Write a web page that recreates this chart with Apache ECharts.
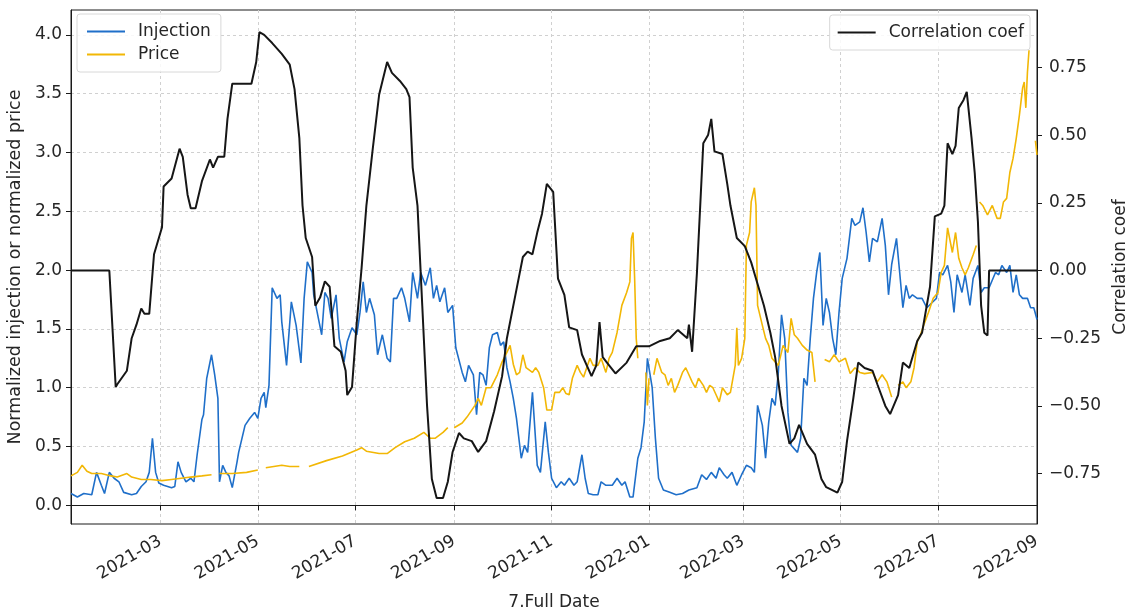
<!DOCTYPE html>
<html>
<head>
<meta charset="utf-8">
<script src="https://cdn.jsdelivr.net/npm/echarts@6/dist/echarts.min.js"></script>
<style>html,body{margin:0;padding:0;background:#fff}#c{width:1127px;height:613px}</style>
</head>
<body>
<div id="c"></div>
<script>
// Days counted from 2021-01-01 (day 0)
const injDays = [3,7,11,16,19,22,24,27,30,33,36,41,44,47,50,52,54,56,58,61,66,68,70,72,75,78,80,82,85,86,88,91,93,95,96,98,100,102,104,107,108,112,115,118,120,122,124,125,127,129,132,134,135,138,141,144,147,149,151,154,155,160,162,164,166,169,171,174,176,179,182,184,186,188,190,193,195,198,201,203,205,207,210,212,215,217,220,222,225,228,230,232,234,237,239,242,244,248,250,252,255,257,259,261,263,265,267,270,272,274,276,278,280,282,285,287,289,292,295,297,300,302,304,307,310,312,315,318,320,323,325,327,330,333,335,338,342,345,348,350,353,355,358,360,362,364,367,369,371,374,378,382,386,390,395,398,401,404,407,409,412,414,417,420,423,426,429,431,433,436,438,440,442,444,446,448,450,452,454,458,460,462,464,466,468,470,472,474,476,478,480,482,484,486,489,492,494,497,499,501,503,505,508,511,513,515,517,520,522,524,526,528,530,533,536,539,542,545,547,549,552,554,556,558,561,563,566,568,571,573,575,578,582,584,586,589,591,593,595,597,599,602,604,606,608];
const injVals = [0.10,0.07,0.10,0.09,0.28,0.17,0.10,0.28,0.23,0.20,0.11,0.09,0.10,0.16,0.20,0.28,0.57,0.28,0.19,0.17,0.15,0.16,0.37,0.28,0.20,0.23,0.20,0.43,0.73,0.77,1.08,1.28,1.11,0.91,0.20,0.34,0.28,0.25,0.15,0.37,0.45,0.68,0.74,0.79,0.74,0.91,0.96,0.83,1.02,1.85,1.76,1.79,1.56,1.19,1.73,1.53,1.21,1.76,2.07,1.98,1.79,1.45,1.81,1.76,1.59,1.79,1.42,1.22,1.39,1.51,1.45,1.64,1.90,1.64,1.76,1.62,1.28,1.45,1.25,1.22,1.76,1.76,1.85,1.76,1.56,1.98,1.76,1.98,1.87,2.02,1.76,1.87,1.73,1.85,1.64,1.70,1.34,1.13,1.05,1.19,1.11,0.77,1.13,1.11,1.02,1.34,1.45,1.47,1.36,1.39,1.17,1.05,0.91,0.74,0.40,0.51,0.45,0.96,0.34,0.28,0.71,0.45,0.23,0.15,0.20,0.17,0.23,0.17,0.20,0.43,0.23,0.10,0.09,0.09,0.20,0.17,0.17,0.23,0.17,0.20,0.07,0.07,0.40,0.49,0.71,1.25,1.00,0.57,0.23,0.13,0.11,0.09,0.10,0.13,0.15,0.26,0.22,0.28,0.23,0.32,0.26,0.23,0.28,0.17,0.26,0.34,0.32,0.28,0.85,0.68,0.40,0.71,0.91,0.85,1.13,1.62,1.42,0.79,0.51,0.45,0.57,1.08,1.02,1.42,1.76,1.98,2.15,1.53,1.76,1.64,1.42,1.28,1.64,1.93,2.10,2.44,2.38,2.41,2.53,2.32,2.07,2.27,2.24,2.44,2.21,1.79,2.05,2.27,1.98,1.68,1.87,1.76,1.79,1.76,1.76,1.68,1.72,1.76,1.98,1.96,2.04,1.90,1.64,1.96,1.81,1.96,1.70,1.93,2.04,1.81,1.85,1.85,1.98,1.96,2.04,1.98,2.04,1.81,1.96,1.79,1.76,1.76,1.68,1.68,1.58];

const priceDays = [3,7,10,13,16,22,28,32,38,41,47,53,60,66,72,78,85,91,93,96,104,113,120,122,125,135,140,146,149,152,163,173,182,185,188,196,201,206,212,218,224,228,231,236,239,241,243,248,251,256,258,260,263,266,270,273,276,278,280,282,284,286,288,292,294,296,299,301,304,306,309,311,313,315,317,320,322,324,326,328,330,333,335,338,340,342,345,348,351,353,354,355,356,357,358,360,363,364,365,366,368,370,373,375,377,379,381,383,386,388,390,392,394,396,399,401,403,405,407,409,411,414,416,419,420,421,423,425,426,428,429,431,432,433,436,438,440,442,444,446,449,452,454,456,458,461,464,467,469,471,475,478,481,484,488,491,494,497,500,505,508,511,514,517,519,521,524,526,529,531,533,535,537,540,543,546,548,550,552,555,557,559,561,563,565,568,570,571,572,574,577,580,583,585,587,589,591,593,595,597,599,600,601,602,603,605,607,608];
const priceVals = [0.25,0.28,0.34,0.29,0.27,0.27,0.25,0.24,0.27,0.24,0.22,0.22,0.21,0.22,0.23,0.24,0.25,0.26,null,0.27,0.27,0.28,0.30,null,0.32,0.34,0.33,0.33,null,0.33,0.38,0.42,0.47,0.49,0.46,0.44,0.44,0.49,0.54,0.57,0.62,0.57,0.57,0.62,0.66,null,0.66,0.70,0.75,0.85,0.91,0.85,1.00,1.00,1.11,1.22,1.30,1.36,1.20,1.11,1.13,1.28,1.17,1.13,1.17,1.13,1.00,0.81,0.81,0.96,0.96,1.00,0.95,0.94,1.08,1.19,1.13,1.09,1.17,1.25,1.19,1.19,1.25,1.13,1.25,1.30,1.47,1.70,1.81,1.90,2.27,2.32,1.93,1.42,1.25,null,1.13,0.85,1.08,null,1.11,1.25,1.13,1.11,1.02,1.08,0.96,1.02,1.13,1.17,1.11,1.05,1.00,1.08,1.02,0.96,1.02,1.00,0.94,0.88,1.00,0.94,0.96,1.19,1.51,1.19,1.25,1.42,2.21,2.32,2.58,2.70,2.55,1.70,1.53,1.42,1.36,1.25,1.22,1.19,1.36,1.30,1.59,1.45,1.42,1.36,1.32,1.30,1.05,null,1.24,1.22,1.28,1.22,1.25,1.12,1.17,1.13,1.12,1.13,1.05,1.11,1.05,0.92,null,1.02,1.05,1.00,1.05,1.17,1.39,1.45,1.53,1.64,1.76,1.81,1.98,2.04,2.36,2.15,2.32,2.10,2.02,1.96,2.02,2.13,2.21,null,2.58,2.55,2.47,2.55,2.44,2.44,2.58,2.61,2.83,2.95,3.12,3.32,3.55,3.60,3.38,3.68,3.87,null,3.10,2.98];

const corrDays = [3,27,31,32,38,41,44,47,49,52,55,60,61,66,71,73,76,78,81,85,90,92,95,99,101,104,109,116,119,121,124,129,135,140,143,146,148,150,154,156,159,162,165,168,172,175,176,179,182,185,188,192,196,201,204,209,213,215,217,220,223,226,229,232,236,239,242,246,249,254,258,263,268,273,276,281,286,289,292,295,298,301,305,308,312,315,320,323,329,332,334,336,340,344,351,357,365,372,378,383,389,390,392,395,399,402,404,406,411,414,416,420,425,429,433,437,441,444,448,453,456,459,464,469,473,476,483,486,489,493,496,500,505,508,513,516,521,524,528,533,536,541,544,548,550,552,555,557,559,562,564,567,569,571,573,575,577,578,608];
const corrVals = [0.00,0.00,-0.43,-0.42,-0.37,-0.25,-0.20,-0.14,-0.16,-0.16,0.06,0.16,0.31,0.34,0.45,0.42,0.28,0.23,0.23,0.33,0.41,0.38,0.42,0.42,0.56,0.69,0.69,0.69,0.77,0.88,0.87,0.84,0.80,0.76,0.67,0.49,0.24,0.12,0.05,-0.13,-0.10,-0.04,-0.06,-0.28,-0.30,-0.37,-0.46,-0.43,-0.19,0.01,0.24,0.45,0.65,0.77,0.73,0.70,0.67,0.64,0.38,0.24,-0.13,-0.50,-0.77,-0.84,-0.84,-0.78,-0.67,-0.60,-0.62,-0.63,-0.67,-0.63,-0.52,-0.39,-0.25,-0.10,0.05,0.07,0.06,0.14,0.21,0.32,0.29,-0.03,-0.09,-0.21,-0.22,-0.31,-0.39,-0.35,-0.19,-0.32,-0.35,-0.38,-0.34,-0.28,-0.28,-0.26,-0.25,-0.22,-0.25,-0.20,-0.30,-0.01,0.47,0.50,0.56,0.44,0.43,0.32,0.24,0.12,0.09,0.03,-0.05,-0.13,-0.23,-0.32,-0.50,-0.64,-0.62,-0.57,-0.64,-0.68,-0.77,-0.80,-0.82,-0.78,-0.63,-0.47,-0.34,-0.36,-0.37,-0.42,-0.50,-0.53,-0.46,-0.34,-0.36,-0.26,-0.23,-0.06,0.20,0.21,0.24,0.47,0.43,0.46,0.60,0.63,0.66,0.49,0.36,0.18,-0.13,-0.23,-0.24,0.00,0.00];

const leftTicks = [0,0.5,1.0,1.5,2.0,2.5,3.0,3.5,4.0];
const rightTicks = [-0.75,-0.5,-0.25,0,0.25,0.5,0.75];

const DAY = 86400000, BASE = Date.UTC(2021,0,1);
const toTs = d => BASE + d * DAY;
const pairs = (days, vals) => days.map((d, i) => [toTs(d), vals[i]]);
const pad = n => (n < 10 ? '0' : '') + n;

const FONT = 'DejaVu Sans';
const FS = 17;
const TXT = '#262626';
const gridLine = {show: true, lineStyle: {color: '#d0d0d0', type: [3, 3], width: 1}};

const chart = echarts.init(document.getElementById('c'), null, {renderer: 'canvas'});
chart.setOption({
  animation: false,
  useUTC: true,
  backgroundColor: '#fff',
  textStyle: {fontFamily: FONT, color: TXT},
  grid: {left: 71, right: 90, top: 10, bottom: 89, show: true, borderColor: '#1a1a1a', borderWidth: 1,
         backgroundColor: 'transparent', containLabel: false, outerBoundsMode: 'none'},
  legend: [
    {data: ['Injection', 'Price'], orient: 'vertical', left: 77, top: 14, icon: 'rect', itemWidth: 38, itemHeight: 2, itemGap: 6,
     padding: [9, 10, 9, 10], borderColor: '#d8d8d8', borderWidth: 1, borderRadius: 3, backgroundColor: 'rgba(255,255,255,0.85)',
     textStyle: {fontFamily: FONT, fontSize: FS, color: TXT, padding: [0, 0, 0, 8]}},
    {data: ['Correlation coef'], orient: 'vertical', right: 97, top: 15, icon: 'rect', itemWidth: 38, itemHeight: 2,
     padding: [9, 6, 9, 8], borderColor: '#d8d8d8', borderWidth: 1, borderRadius: 3, backgroundColor: 'rgba(255,255,255,0.85)',
     textStyle: {fontFamily: FONT, fontSize: FS, color: TXT, padding: [0, 0, 0, 8]}}
  ],
  xAxis: {
    type: 'time', min: toTs(3), max: toTs(608), splitNumber: 8,
    name: '7.Full Date', nameLocation: 'middle', nameGap: 70,
    nameTextStyle: {fontFamily: FONT, fontSize: FS, color: TXT},
    axisLine: {show: true, lineStyle: {color: '#1a1a1a'}},
    axisTick: {show: true, length: 5, lineStyle: {color: '#1a1a1a'}},
    axisLabel: {rotate: 30, margin: 16, fontSize: FS, color: TXT, fontFamily: FONT, hideOverlap: false,
      showMinLabel: false, showMaxLabel: true,
      formatter: v => { const d = new Date(v); return d.getUTCFullYear() + '-' + pad(d.getUTCMonth() + 1); }},
    splitLine: gridLine
  },
  yAxis: [
    {type: 'value', position: 'left', min: -0.159, max: 4.212, splitNumber: 9,
     name: 'Normalized injection or normalized price', nameLocation: 'middle', nameGap: 39, nameRotate: 90,
     nameTextStyle: {fontFamily: FONT, fontSize: 17.5, color: TXT},
     axisLine: {show: true, lineStyle: {color: '#1a1a1a'}},
     axisTick: {show: true, length: 5, lineStyle: {color: '#1a1a1a'}, customValues: leftTicks},
     axisLabel: {margin: 9, fontSize: FS, color: TXT, fontFamily: FONT, customValues: leftTicks, formatter: v => v.toFixed(1)},
     splitLine: gridLine},
    {type: 'value', position: 'right', min: -0.936, max: 0.962,
     name: 'Correlation coef', nameLocation: 'middle', nameGap: 71, nameRotate: 90,
     nameTextStyle: {fontFamily: FONT, fontSize: FS, color: TXT},
     axisLine: {show: true, lineStyle: {color: '#1a1a1a'}},
     axisTick: {show: true, length: 5, lineStyle: {color: '#1a1a1a'}, customValues: rightTicks},
     axisLabel: {margin: 12, fontSize: FS, color: TXT, fontFamily: FONT, customValues: rightTicks,
       formatter: v => (v < 0 ? '\u2212' + Math.abs(v).toFixed(2) : v.toFixed(2))},
     splitLine: {show: false}}
  ],
  series: [
    {name: 'Injection', type: 'line', yAxisIndex: 0, data: pairs(injDays, injVals), color: '#1f6fc9',
     showSymbol: false, symbol: 'none', lineStyle: {width: 1.6, color: '#1f6fc9'}, z: 2},
    {name: 'Price', type: 'line', yAxisIndex: 0, data: pairs(priceDays, priceVals), color: '#f2b705',
     showSymbol: false, symbol: 'none', connectNulls: false, lineStyle: {width: 1.6, color: '#f2b705'}, z: 3},
    {name: 'Correlation coef', type: 'line', yAxisIndex: 1, data: pairs(corrDays, corrVals), color: '#161616',
     showSymbol: false, symbol: 'none', lineStyle: {width: 2, color: '#161616'}, z: 4}
  ]
});
</script>
</body>
</html>
